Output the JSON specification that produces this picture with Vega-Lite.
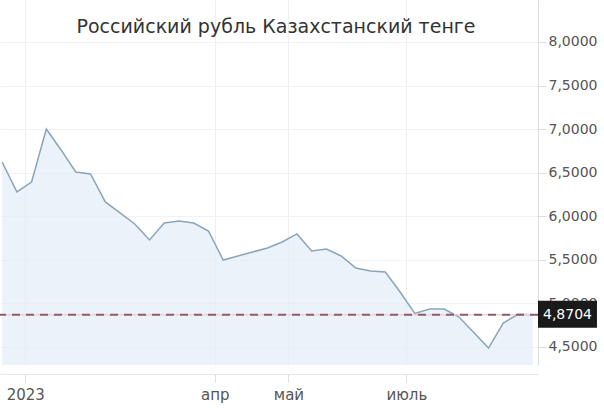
{
  "$schema": "https://vega.github.io/schema/vega-lite/v6.json",
  "width": 538,
  "height": 365,
  "padding": {"left": 0, "top": 0, "right": 66, "bottom": 50},
  "autosize": {"type": "none"},
  "background": "white",
  "title": {
    "text": "Российский рубль Казахстанский тенге",
    "anchor": "middle",
    "frame": "group",
    "offset": -52,
    "baseline": "alphabetic",
    "dx": 7,
    "font": "DejaVu Sans",
    "fontSize": 19,
    "fontWeight": "normal",
    "color": "#333333"
  },
  "config": {
    "view": {"stroke": null},
    "axis": {"labelFont": "DejaVu Sans", "labelColor": "#555555"}
  },
  "datasets": {
    "rate": [
      {"date": "2022-12-21", "value": 6.623},
      {"date": "2022-12-28", "value": 6.279},
      {"date": "2023-01-04", "value": 6.393},
      {"date": "2023-01-11", "value": 7.002},
      {"date": "2023-01-18", "value": 6.761},
      {"date": "2023-01-25", "value": 6.508},
      {"date": "2023-02-01", "value": 6.485},
      {"date": "2023-02-08", "value": 6.164},
      {"date": "2023-02-15", "value": 6.038},
      {"date": "2023-02-22", "value": 5.911},
      {"date": "2023-03-01", "value": 5.728},
      {"date": "2023-03-08", "value": 5.923},
      {"date": "2023-03-15", "value": 5.946},
      {"date": "2023-03-22", "value": 5.923},
      {"date": "2023-03-29", "value": 5.831},
      {"date": "2023-04-05", "value": 5.498},
      {"date": "2023-04-12", "value": 5.544},
      {"date": "2023-04-19", "value": 5.59},
      {"date": "2023-04-26", "value": 5.636},
      {"date": "2023-05-03", "value": 5.705},
      {"date": "2023-05-10", "value": 5.797},
      {"date": "2023-05-17", "value": 5.602},
      {"date": "2023-05-24", "value": 5.624},
      {"date": "2023-05-31", "value": 5.544},
      {"date": "2023-06-07", "value": 5.406},
      {"date": "2023-06-14", "value": 5.372},
      {"date": "2023-06-21", "value": 5.361},
      {"date": "2023-06-28", "value": 5.131},
      {"date": "2023-07-05", "value": 4.885},
      {"date": "2023-07-12", "value": 4.936},
      {"date": "2023-07-19", "value": 4.936},
      {"date": "2023-07-26", "value": 4.844},
      {"date": "2023-08-02", "value": 4.667},
      {"date": "2023-08-09", "value": 4.488},
      {"date": "2023-08-16", "value": 4.775},
      {"date": "2023-08-23", "value": 4.875},
      {"date": "2023-08-30", "value": 4.8704}
    ],
    "last": [
      {"label": "4,8704", "value": 4.8704, "lo": 4.72, "hi": 5.03}
    ]
  },
  "layer": [
    {
      "data": {"name": "rate"},
      "mark": {
        "type": "area",
        "clip": true,
        "color": "#e4edf6",
        "line": {"color": "#8aa5b9", "strokeWidth": 1.5}
      },
      "encoding": {
        "x": {
          "field": "date",
          "type": "temporal",
          "scale": {
            "type": "utc",
            "domain": [
              {"year": 2022, "month": 12, "date": 20, "utc": true},
              {"year": 2023, "month": 9, "date": 1, "hours": 12, "utc": true}
            ]
          },
          "axis": {
            "title": null,
            "orient": "bottom",
            "offset": 9,
            "values": [
              {"year": 2023, "month": 1, "date": 1, "utc": true},
              {"year": 2023, "month": 4, "date": 1, "utc": true},
              {"year": 2023, "month": 5, "date": 6, "utc": true},
              {"year": 2023, "month": 7, "date": 1, "utc": true}
            ],
            "labelExpr": "utcmonth(datum.value) == 0 ? '2023' : utcmonth(datum.value) == 3 ? 'апр' : utcmonth(datum.value) == 4 ? 'май' : 'июль'",
            "labelFontSize": 15,
            "labelPadding": 5,
            "tickSize": 8,
            "tickColor": "#dddddd",
            "domainColor": "#e6e6e6",
            "grid": true,
            "gridColor": "#eeeeee"
          }
        },
        "y": {
          "field": "value",
          "type": "quantitative",
          "scale": {"domain": [4.293, 8.482], "zero": false, "nice": false},
          "axis": {
            "title": null,
            "orient": "right",
            "values": [4.5, 5, 5.5, 6, 6.5, 7, 7.5, 8],
            "labelExpr": "replace(format(datum.value, '.4f'), '.', ',')",
            "labelFontSize": 14,
            "labelPadding": 2,
            "tickSize": 8,
            "tickColor": "#dddddd",
            "domainColor": "#dddddd",
            "grid": true,
            "gridColor": "#f2f2f2"
          }
        }
      }
    },
    {
      "mark": {"type": "rule", "color": "#c6c6c6", "strokeWidth": 2},
      "encoding": {"y": {"datum": 4.293}}
    },
    {
      "data": {"name": "last"},
      "mark": {"type": "rule", "color": "#ecd0d5", "strokeWidth": 1.5},
      "encoding": {"y": {"field": "value", "type": "quantitative"}}
    },
    {
      "data": {"name": "last"},
      "mark": {"type": "rule", "color": "#8e5c6a", "strokeWidth": 2, "strokeDash": [8, 6]},
      "encoding": {"y": {"field": "value", "type": "quantitative"}}
    },
    {
      "data": {"name": "last"},
      "mark": {"type": "rect", "color": "#1a1a1a", "clip": false},
      "encoding": {
        "x": {"datum": {"year": 2023, "month": 9, "date": 1, "hours": 12, "utc": true}},
        "x2": {"datum": {"year": 2023, "month": 9, "date": 29, "hours": 12, "utc": true}},
        "y": {"field": "lo", "type": "quantitative"},
        "y2": {"field": "hi"}
      }
    },
    {
      "data": {"name": "last"},
      "mark": {"type": "text", "color": "white", "font": "DejaVu Sans", "fontSize": 14, "align": "center", "baseline": "middle", "clip": false},
      "encoding": {
        "x": {"datum": {"year": 2023, "month": 9, "date": 15, "hours": 12, "utc": true}},
        "y": {"field": "value", "type": "quantitative"},
        "text": {"field": "label"}
      }
    }
  ]
}
